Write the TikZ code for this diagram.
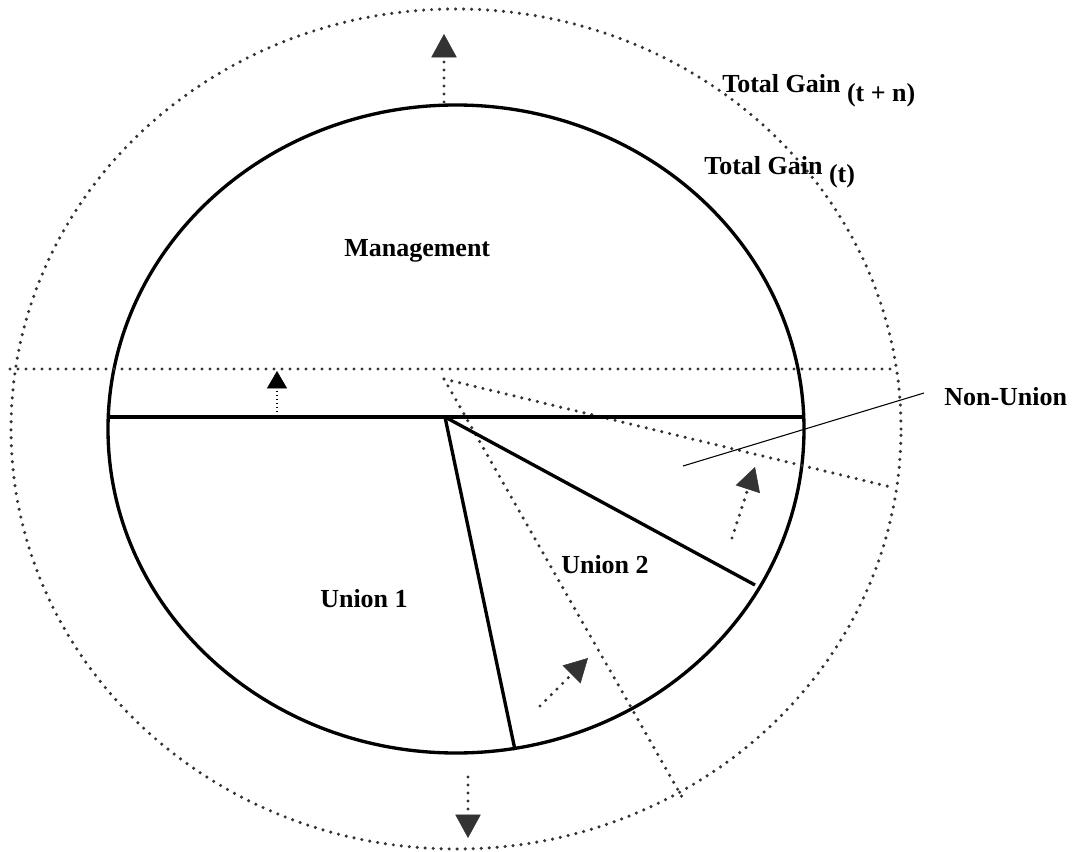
\documentclass[tikz,border=0pt]{standalone}
\usepackage{fontspec}
\setmainfont{Liberation Serif}
\usetikzlibrary{arrows.meta}
\definecolor{dotgray}{HTML}{333333}
\begin{document}
\begin{tikzpicture}[x=0.75pt,y=-0.75pt,
  solidline/.style={black,line width=2.5pt},
  dotline/.style={dotgray,line width=2.6pt,line cap=round,dash pattern=on 0pt off 6pt},
  fineline/.style={black,line width=0.8pt},
  grayhead/.style={-{Triangle[length=17.5pt,width=19pt,line width=0.4pt]}},
  blackhead/.style={-{Triangle[length=13pt,width=15pt,line width=0.4pt]}},
  finedot/.style={black,line width=0.9pt,dash pattern=on 1.1pt off 1.9pt},
  lbl/.style={inner sep=0pt,anchor=base west,font=\fontsize{19.5}{23}\selectfont\bfseries}]
\useasboundingbox (0,0) rectangle (1077,852);
% centres
\coordinate (ctr) at (456,429);
\coordinate (apex) at (445,417);
\coordinate (hl) at (108.2,417);
\coordinate (hr) at (803.8,417);
\coordinate (u1end) at (515,750);
\coordinate (u2end) at (755,585);
\coordinate (dsrc) at (444,379);
\coordinate (dA) at (895,488);
\coordinate (dB) at (682,797);
\coordinate (dhl) at (10,369);
\coordinate (dhr) at (896,369);
% outer dotted ellipse
\draw[dotline] (ctr) ellipse [x radius=333.75pt, y radius=315pt];
% inner solid ellipse
\draw[solidline] (ctr) ellipse [x radius=261pt, y radius=243pt];
% dotted lines
\draw[dotline] (dhl) -- (dhr);
\draw[dotline] (dsrc) -- (dA);
\draw[dotline] (dsrc) -- (dB);
% solid division lines
\draw[solidline] (hl) -- (hr);
\draw[solidline] (apex) -- (u1end);
\draw[solidline] (apex) -- (u2end);
% arrows
\coordinate (topS) at (444,102);
\coordinate (topT) at (444,34);
\coordinate (botS) at (468,777);
\coordinate (botT) at (468,838);
\coordinate (smS) at (277,416);
\coordinate (smT) at (277,371);
\coordinate (nuS) at (732,538);
\coordinate (nuT) at (755,467);
\coordinate (u2S) at (540,706);
\coordinate (u2T) at (588,658);
\draw[dotline,grayhead] (topS) -- (topT);
\draw[dotline,grayhead] (botS) -- (botT);
\draw[dotline,grayhead] (nuS) -- (nuT);
\draw[dotline,grayhead] (u2S) -- (u2T);
\draw[finedot,blackhead] (smS) -- (smT);
% labels
\node[lbl] (mgmt) at (344,257) {Management};
\node[lbl] (tgn) at (722,93) {Total Gain \raisebox{-6.5pt}{(t + n)}};
\node[lbl] (tgt) at (704,175) {Total Gain \raisebox{-6pt}{(t)}};
\node[lbl] (nonu) at (944,405) {Non-Union};
\node[lbl] (u1) at (320,607) {Union 1};
\node[lbl] (u2) at (561,573) {Union 2};
% leader line
\coordinate (ldA) at (683,466);
\coordinate (ldB) at (924,393);
\draw[fineline] (ldA) -- (ldB);
\end{tikzpicture}
\end{document}
